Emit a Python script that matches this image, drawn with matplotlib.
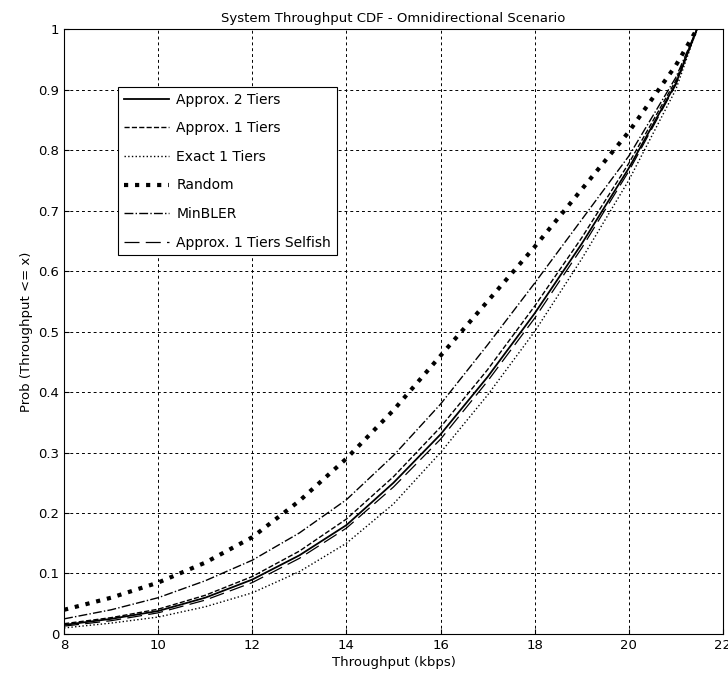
import numpy as np
import matplotlib.pyplot as plt

x = [8, 9, 10, 11, 12, 13, 14, 15, 16, 17, 18, 19, 20, 21, 21.45]
approx2 = [0.015, 0.025, 0.038, 0.060, 0.090, 0.130, 0.180, 0.250, 0.330, 0.425, 0.530, 0.645, 0.770, 0.910, 1.0]
approx1 = [0.017, 0.027, 0.041, 0.064, 0.095, 0.137, 0.190, 0.260, 0.342, 0.437, 0.542, 0.655, 0.778, 0.915, 1.0]
exact1 = [0.010, 0.018, 0.028, 0.045, 0.068, 0.103, 0.150, 0.215, 0.300, 0.395, 0.500, 0.620, 0.750, 0.900, 1.0]
random_ = [0.040, 0.060, 0.085, 0.118, 0.160, 0.220, 0.290, 0.370, 0.460, 0.550, 0.640, 0.735, 0.830, 0.940, 1.0]
minbler = [0.025, 0.040, 0.060, 0.088, 0.122, 0.167, 0.222, 0.295, 0.380, 0.478, 0.580, 0.685, 0.790, 0.920, 1.0]
selfish = [0.013, 0.022, 0.035, 0.056, 0.085, 0.125, 0.175, 0.243, 0.322, 0.418, 0.522, 0.638, 0.765, 0.908, 1.0]

fig = plt.figure(figsize=(7.28, 6.82), dpi=100)
ax = fig.add_axes([0.088, 0.0704, 0.905, 0.887])
ax.plot(x, approx2, 'k-', lw=1.3, label='Approx. 2 Tiers')
ax.plot(x, approx1, 'k--', lw=1.0, label='Approx. 1 Tiers')
ax.plot(x, exact1, 'k:', lw=1.0, label='Exact 1 Tiers')
ax.plot(x, random_, 'k:', lw=3.0, label='Random')
ax.plot(x, minbler, 'k-.', lw=1.0, label='MinBLER')
ax.plot(x, selfish, 'k', lw=0.9, dashes=(12, 5), label='Approx. 1 Tiers Selfish')

ax.set_xlim(8, 22)
ax.set_ylim(0, 1)
ax.set_xticks(range(8, 23, 2))
ax.set_yticks(np.arange(0, 1.01, 0.1))
ax.set_yticklabels(['0', '0.1', '0.2', '0.3', '0.4', '0.5', '0.6', '0.7', '0.8', '0.9', '1'])
ax.tick_params(labelsize=9.5, direction='in')
ax.grid(True, color='k', ls=(0, (3, 3)), lw=0.7)
ax.set_xlabel('Throughput (kbps)', fontsize=9.5, labelpad=3)
ax.set_ylabel('Prob (Throughput <= x)', fontsize=9.5, labelpad=4)
ax.set_title('System Throughput CDF - Omnidirectional Scenario', fontsize=9.5, pad=5)
leg = ax.legend(loc='upper left', bbox_to_anchor=(0.082, 0.904), fontsize=10,
                fancybox=False, edgecolor='k', framealpha=1, handlelength=3.3,
                borderaxespad=0, labelspacing=1.05, handletextpad=0.5)
leg.get_frame().set_linewidth(0.8)

fig.savefig('out.png')
